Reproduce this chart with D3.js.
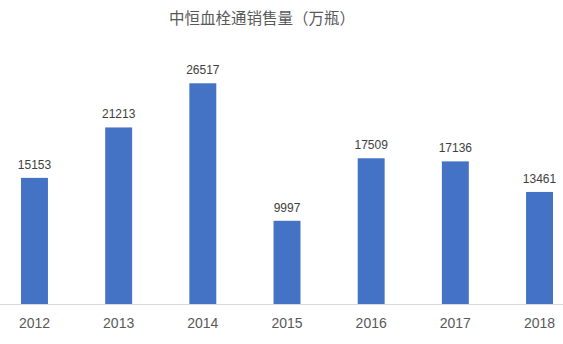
<!DOCTYPE html>
<html>
<head>
<meta charset="utf-8">
<script src="https://cdn.jsdelivr.net/npm/d3@7"></script>
<style>
  html, body { margin: 0; padding: 0; background: #fff; }
  svg { display: block; }
</style>
</head>
<body>
<svg id="chart" width="563" height="344"></svg>
<script>
// chart data
var years = ['2012', '2013', '2014', '2015', '2016', '2017', '2018'];
var sales = [15153, 21213, 26517, 9997, 17509, 17136, 13461];
var title = '中恒血栓通销售量（万瓶）';

var svg = d3.select('#chart');

var x = d3.scaleBand()
    .domain(years)
    .range([-7.6, 581.6])
    .paddingInner(0.68)
    .paddingOuter(0.34);

var y = d3.scaleLinear()
    .domain([0, 30000])
    .range([304, 54.3]);

// title
svg.append('text')
    .attr('x', 262)
    .attr('y', 24)
    .attr('text-anchor', 'middle')
    .attr('font-family', '"Noto Sans CJK SC", sans-serif')
    .attr('font-size', 15.5)
    .attr('fill', '#595959')
    .text(title);

// bars
svg.selectAll('.bar')
    .data(sales)
    .enter().append('rect')
        .attr('class', 'bar')
        .attr('x', function (d, i) { return x(years[i]); })
        .attr('y', function (d) { return y(d); })
        .attr('width', x.bandwidth())
        .attr('height', function (d) { return y(0) - y(d); })
        .attr('fill', '#4472C4');

// value labels
svg.selectAll('.val')
    .data(sales)
    .enter().append('text')
        .attr('class', 'val')
        .attr('x', function (d, i) { return x(years[i]) + x.bandwidth() / 2; })
        .attr('y', function (d) { return y(d) - 9; })
        .attr('text-anchor', 'middle')
        .attr('font-family', '"Liberation Sans", Arial, sans-serif')
        .attr('font-size', 12)
        .attr('fill', '#404040')
        .text(function (d) { return d; });

// category axis
var xAxis = svg.append('g')
    .attr('transform', 'translate(0,' + y(0) + ')')
    .call(d3.axisBottom(x).tickSize(0).tickPadding(20));

xAxis.select('.domain')
    .attr('stroke', '#d9d9d9')
    .attr('stroke-width', 1);

xAxis.selectAll('text')
    .attr('font-family', '"Liberation Sans", Arial, sans-serif')
    .attr('font-size', 14)
    .attr('fill', '#595959')
    .attr('dy', '0.3em');
</script>
</body>
</html>
